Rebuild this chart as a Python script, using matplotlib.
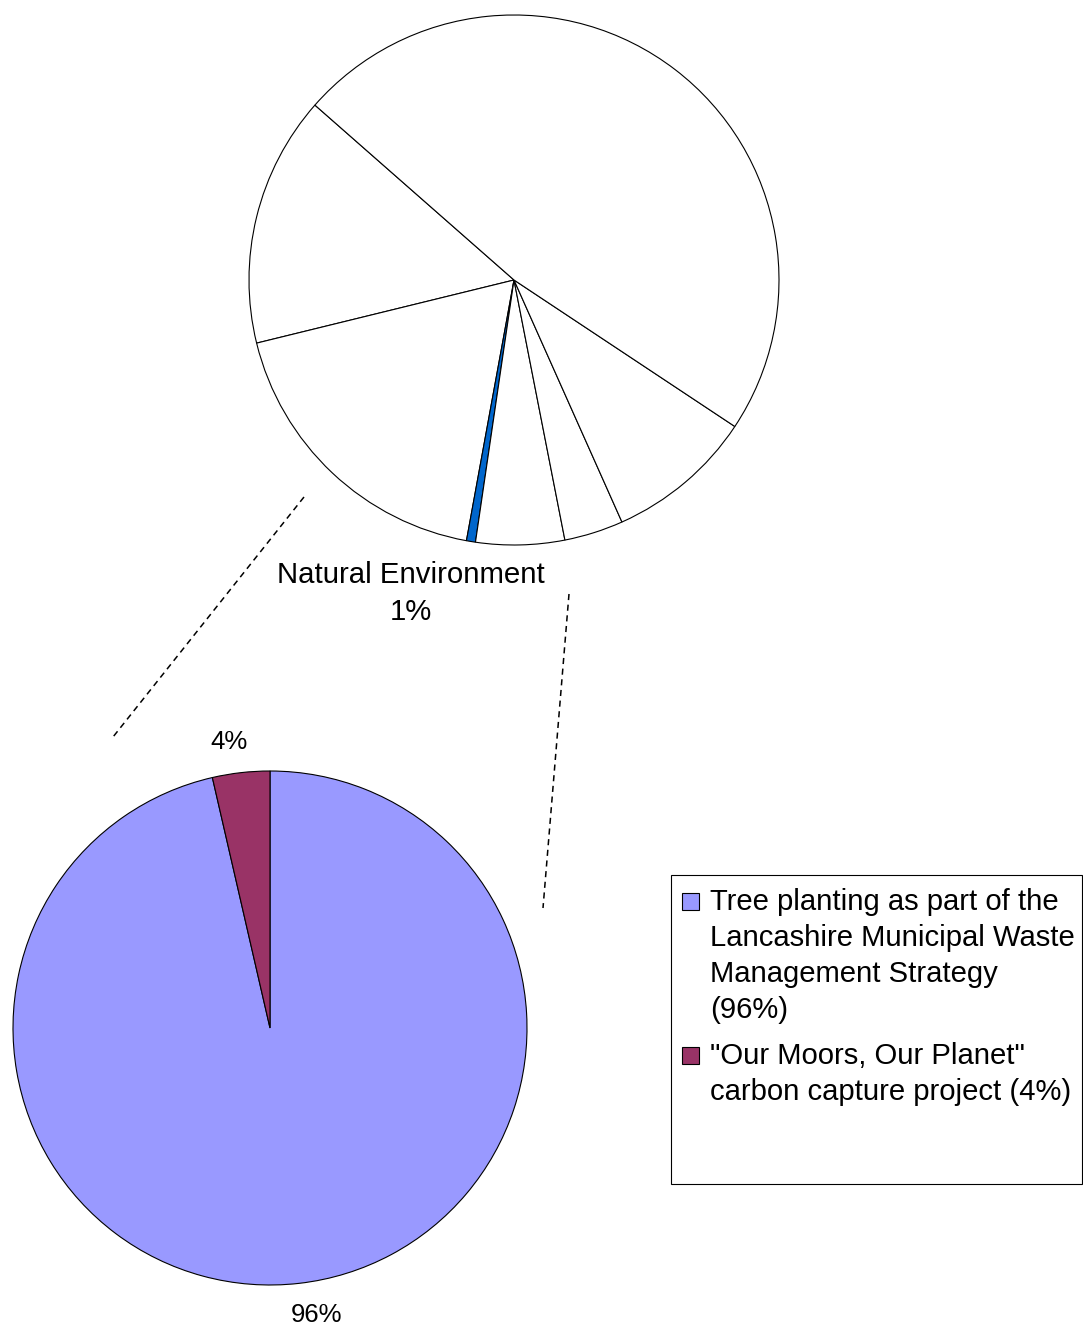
import matplotlib
matplotlib.use('Agg')
import matplotlib.pyplot as plt
from matplotlib.patches import Rectangle

plt.rcParams['font.family'] = ['Liberation Sans', 'DejaVu Sans']

# Overall breakdown (top pie), going anticlockwise from the upper-left edge
main_shares = [15.3, 18.3, 0.55, 5.4, 3.6, 9.0, 47.85]
main_colors = ['white', 'white', '#0066CC', 'white', 'white', 'white', 'white']
highlight_idx = 2
highlight_name = 'Natural Environment'

# Natural Environment split (bottom pie)
sub_labels = ['Tree planting as part of the\nLancashire Municipal Waste\nManagement Strategy\n(96%)',
              '"Our Moors, Our Planet"\ncarbon capture project (4%)']
sub_shares = [96.4, 3.6]
sub_colors = ['#9999FF', '#993366']

W, H = 1083, 1327
fig = plt.figure(figsize=(W / 100, H / 100), dpi=100)
ax = fig.add_axes([0, 0, 1, 1])


def py(y):
    # pixel row (from top) -> axis y
    return H - y


wedge_kw = dict(edgecolor='black', linewidth=0.8)

# top pie
ax.pie(main_shares, colors=main_colors, startangle=138.7, counterclock=True,
       center=(514, py(280)), radius=265, wedgeprops=wedge_kw, frame=True)

ax.text(411, py(575), highlight_name, ha='center', va='center', fontsize=21.2)
ax.text(411, py(612), f'{main_shares[highlight_idx]:.0f}%',
        ha='center', va='center', fontsize=21.2)

# bottom pie
wedges, _, autotexts = ax.pie(sub_shares, colors=sub_colors, startangle=90,
                              counterclock=False, center=(270, py(1028)),
                              radius=257, wedgeprops=wedge_kw,
                              autopct='%.0f%%', pctdistance=1.13, frame=True)
for t, pos in zip(autotexts, [(317, py(1315)), (229, py(742))]):
    t.set_fontsize(18.5)
    t.set_position(pos)

ax.set_xlim(0, W)
ax.set_ylim(0, H)
ax.set_aspect('equal')
ax.axis('off')

# connector lines
ax.plot([304, 113], [py(497), py(737)], ls=(0, (4, 3)), color='black', lw=1.1)
ax.plot([569, 543], [py(594), py(908)], ls=(0, (4, 3)), color='black', lw=1.1)

# legend box
ax.add_patch(Rectangle((671, py(1184)), 411, 309, facecolor='white',
                       edgecolor='black', linewidth=0.8))
y = 902
for label, color in zip(sub_labels, sub_colors):
    ax.add_patch(Rectangle((682, py(y + 8)), 17, 17, facecolor=color,
                           edgecolor='black', linewidth=0.8))
    for line in label.split('\n'):
        ax.text(710, py(y), line, ha='left', va='center', fontsize=21.1)
        y += 36
    y += 10

fig.savefig('out.png', dpi=100)
